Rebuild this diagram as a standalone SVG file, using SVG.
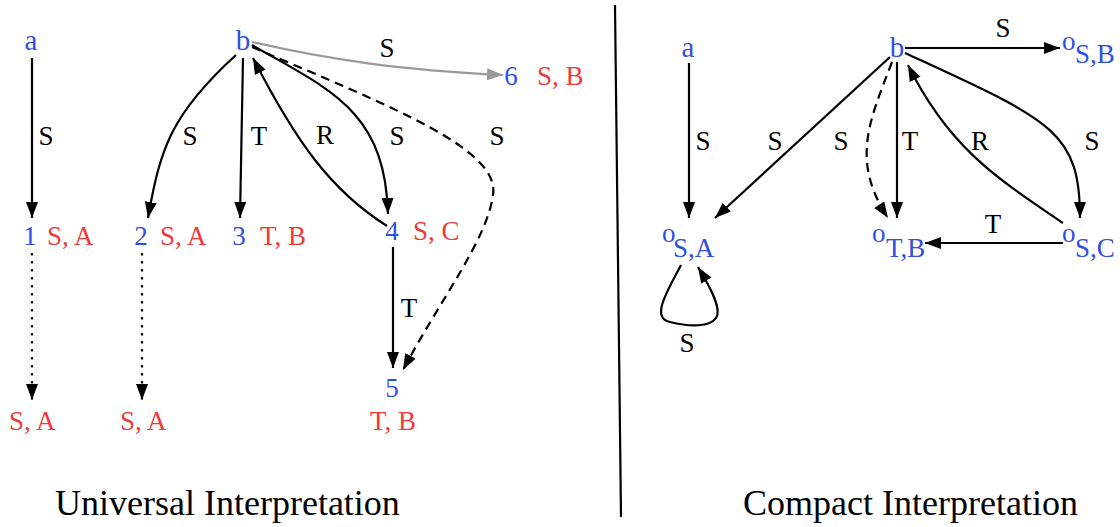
<svg xmlns="http://www.w3.org/2000/svg" width="1120" height="527" viewBox="0 0 1120 527">
<style>
text{font-family:"Liberation Serif","DejaVu Serif",serif;font-size:27px}
.n{fill:#2f4fe0}
.r{fill:#f03a3a}
.l{fill:#000}
.big{font-size:29px}
.t{font-size:36px;fill:#000}
.e{fill:none;stroke:#000;stroke-width:2.2}
.dash{stroke-dasharray:9,6}
.dot{stroke-dasharray:2.5,5.5}
.g{stroke:#999}
</style>
<defs>
<marker id="ah" markerUnits="userSpaceOnUse" markerWidth="17" markerHeight="13" refX="16" refY="6" orient="auto" viewBox="0 0 17 13"><path d="M0,0 L16,6 L0,12 z" fill="#000"/></marker>
<marker id="ahg" markerUnits="userSpaceOnUse" markerWidth="17" markerHeight="13" refX="16" refY="6" orient="auto" viewBox="0 0 17 13"><path d="M0,0 L16,6 L0,12 z" fill="#999"/></marker>
</defs>
<rect width="1120" height="527" fill="#fff"/>
<g id="connectors">
<path class="e" d="M32,58 L32,218" marker-end="url(#ah)"/>
<path class="e" d="M236,55 C170,115 160,150 148,218" marker-end="url(#ah)"/>
<path class="e" d="M243,58 L240,218" marker-end="url(#ah)"/>
<path class="e" d="M387,226 C330,190 295,140 253,58" marker-end="url(#ah)"/>
<path class="e" d="M252,45 C330,90 385,110 388,214" marker-end="url(#ah)"/>
<path class="e dash" d="M252,47 C400,110 500,150 493,195 C487,240 440,300 403,370" marker-end="url(#ah)"/>
<path class="e g" d="M252,42 C330,60 400,70 503,75" marker-end="url(#ahg)"/>
<path class="e" d="M393,247 L393,368" marker-end="url(#ah)"/>
<path class="e dot" d="M32,253 L32,400" marker-end="url(#ah)"/>
<path class="e dot" d="M142,253 L142,400" marker-end="url(#ah)"/>
<path class="e" d="M615,5 L621,517"/>
<path class="e" d="M689,63 L689,218" marker-end="url(#ah)"/>
<path class="e" d="M890,57 L715,218" marker-end="url(#ah)"/>
<path class="e dash" d="M892,62 C870,120 850,160 888,218" marker-end="url(#ah)"/>
<path class="e" d="M897,62 L897,218" marker-end="url(#ah)"/>
<path class="e" d="M1063,223 C1000,180 950,150 908,65" marker-end="url(#ah)"/>
<path class="e" d="M905,53 C1050,120 1080,130 1080,218" marker-end="url(#ah)"/>
<path class="e" d="M905,48 L1060,48" marker-end="url(#ah)"/>
<path class="e" d="M1063,243 L925,243" marker-end="url(#ah)"/>
<path class="e" d="M681,265 C668,290 650,318 670,322 C690,327 710,327 716,318 C722,310 712,290 698,267" marker-end="url(#ah)"/>
</g>
<g id="edge-labels">
<text class="l" x="46" y="145" text-anchor="middle">S</text>
<text class="l" x="190" y="145" text-anchor="middle">S</text>
<text class="l" x="259" y="145" text-anchor="middle">T</text>
<text class="l" x="325" y="144" text-anchor="middle">R</text>
<text class="l" x="397" y="145" text-anchor="middle">S</text>
<text class="l" x="497" y="145" text-anchor="middle">S</text>
<text class="l" x="387" y="57" text-anchor="middle">S</text>
<text class="l" x="409" y="317" text-anchor="middle">T</text>
<text class="l" x="703" y="150" text-anchor="middle">S</text>
<text class="l" x="775" y="150" text-anchor="middle">S</text>
<text class="l" x="841" y="150" text-anchor="middle">S</text>
<text class="l" x="910" y="150" text-anchor="middle">T</text>
<text class="l" x="980" y="150" text-anchor="middle">R</text>
<text class="l" x="1092" y="150" text-anchor="middle">S</text>
<text class="l" x="993" y="233" text-anchor="middle">T</text>
<text class="l" x="1003" y="37" text-anchor="middle">S</text>
<text class="l" x="687" y="352" text-anchor="middle">S</text>
</g>
<g id="u-a"><text class="n big" x="31" y="50" text-anchor="middle">a</text></g>
<g id="u-b"><text class="n big" x="243" y="50" text-anchor="middle">b</text></g>
<g id="u-1"><text class="n" x="30" y="245" text-anchor="middle">1</text><text class="r" x="47" y="245">S, A</text></g>
<g id="u-2"><text class="n" x="141" y="245" text-anchor="middle">2</text><text class="r" x="160" y="245">S, A</text></g>
<g id="u-3"><text class="n" x="239" y="245" text-anchor="middle">3</text><text class="r" x="260" y="245">T, B</text></g>
<g id="u-4"><text class="n" x="392" y="240" text-anchor="middle">4</text><text class="r" x="413" y="240">S, C</text></g>
<g id="u-5"><text class="n" x="392" y="397" text-anchor="middle">5</text><text class="r" x="393" y="430" text-anchor="middle">T, B</text></g>
<g id="u-6"><text class="n" x="511" y="85" text-anchor="middle">6</text><text class="r" x="537" y="85">S, B</text></g>
<g id="u-1s"><text class="r" x="9" y="430">S, A</text></g>
<g id="u-2s"><text class="r" x="120" y="430">S, A</text></g>
<g id="c-a"><text class="n big" x="688" y="57" text-anchor="middle">a</text></g>
<g id="c-b"><text class="n big" x="897" y="57" text-anchor="middle">b</text></g>
<g id="c-sa"><text class="n" x="662" y="242">o</text><text class="n" x="673" y="257">S,A</text></g>
<g id="c-tb"><text class="n" x="872" y="242">o</text><text class="n" x="886" y="257">T,B</text></g>
<g id="c-sc"><text class="n" x="1062" y="242">o</text><text class="n" x="1075" y="257">S,C</text></g>
<g id="c-sb"><text class="n" x="1062" y="50">o</text><text class="n" x="1075" y="63">S,B</text></g>
<g id="titles">
<text class="t" x="55" y="515">Universal Interpretation</text>
<text class="t" x="743" y="515">Compact Interpretation</text>
</g>
</svg>
